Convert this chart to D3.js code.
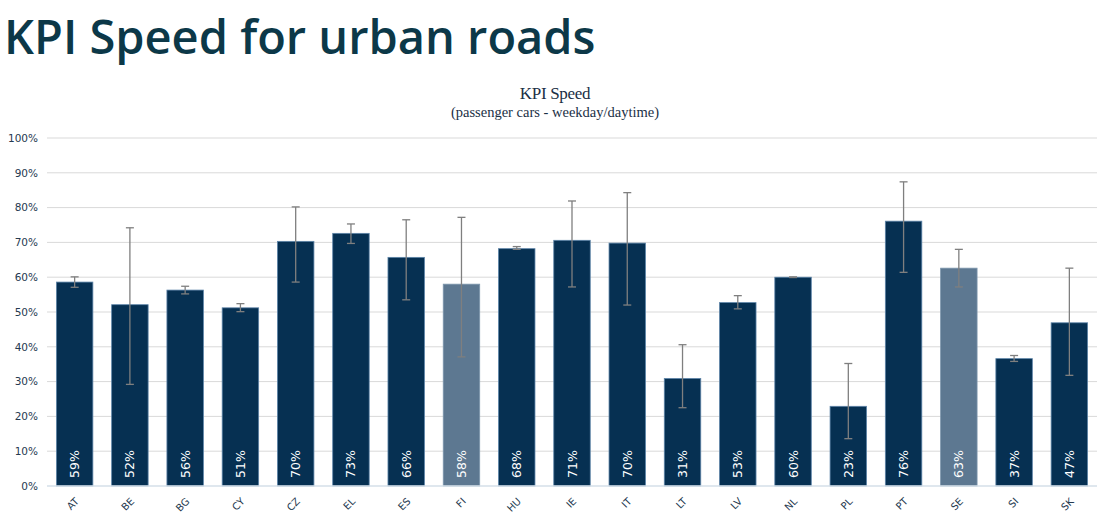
<!DOCTYPE html>
<html>
<head>
<meta charset="utf-8">
<script src="https://cdn.jsdelivr.net/npm/d3@7"></script>
<style>
  body { margin: 0; background: #fff; }
  svg { display: block; }
</style>
</head>
<body>
<div id="chart"></div>
<script>
// Chart data
const countries = ["AT","BE","BG","CY","CZ","EL","ES","FI","HU","IE","IT","LT","LV","NL","PL","PT","SE","SI","SK"];
const kpi      = [58.6,52.1,56.3,51.2,70.3,72.6,65.7,58.0,68.2,70.6,69.8,30.9,52.7,60.0,22.9,76.1,62.6,36.6,46.9];
const errHigh  = [60.1,74.2,57.4,52.4,80.2,75.3,76.5,77.2,68.8,81.9,84.3,40.6,54.7,60.1,35.2,87.4,68.0,37.5,62.6];
const errLow   = [57.1,29.2,55.2,50.1,58.6,69.7,53.5,37.1,68.0,57.2,52.0,22.5,50.9,59.9,13.6,61.4,57.2,35.8,31.8];
const labels   = ["59%","52%","56%","51%","70%","73%","66%","58%","68%","71%","70%","31%","53%","60%","23%","76%","63%","37%","47%"];
const lighter  = ["FI","SE"];
const yTicks   = [0,10,20,30,40,50,60,70,80,90,100];

const width = 1106, height = 528;
const margin = {left: 47, right: 9, top: 138, bottom: 42};

const svg = d3.select("#chart")
  .append("svg")
  .attr("width", width)
  .attr("height", height);

// Page title
svg.append("text")
  .attr("x", 4)
  .attr("y", 54)
  .attr("font-family", "'Open Sans', sans-serif")
  .attr("font-weight", 600)
  .attr("font-size", "47px")
  .attr("fill", "#0c3848")
  .text("KPI Speed for urban roads");

// Chart title + subtitle
svg.append("text")
  .attr("x", 555).attr("y", 99)
  .attr("text-anchor", "middle")
  .attr("font-family", "'Liberation Serif', serif")
  .attr("font-size", "17px")
  .attr("letter-spacing", "-0.3px")
  .attr("fill", "#1a2f45")
  .text("KPI Speed");
svg.append("text")
  .attr("x", 555).attr("y", 117)
  .attr("text-anchor", "middle")
  .attr("font-family", "'Liberation Serif', serif")
  .attr("font-size", "14.5px")
  .attr("fill", "#1a2f45")
  .text("(passenger cars - weekday/daytime)");

// Scales
const x = d3.scaleBand()
  .domain(countries)
  .range([margin.left, width - margin.right])
  .paddingInner(0.34)
  .paddingOuter(0.17);

const y = d3.scaleLinear()
  .domain([0, 100])
  .range([height - margin.bottom, margin.top]);

// Gridlines
svg.append("g")
  .selectAll("line")
  .data(yTicks.slice(1))
  .join("line")
  .attr("x1", margin.left)
  .attr("x2", width - margin.right)
  .attr("y1", d => y(d))
  .attr("y2", d => y(d))
  .attr("stroke", "#d9d9d9")
  .attr("stroke-width", 1);

// Y axis labels
const yAxis = svg.append("g")
  .attr("transform", `translate(${margin.left},0)`)
  .call(d3.axisLeft(y).tickValues(yTicks).tickFormat(d => d + "%").tickSize(0).tickPadding(9));
yAxis.select(".domain").remove();
yAxis.selectAll("text")
  .attr("font-family", "'DejaVu Sans', sans-serif")
  .attr("font-size", "10.5px")
  .attr("fill", "#263a50");

// Bars
const rows = countries.map((c, i) => ({c, v: kpi[i], hi: errHigh[i], lo: errLow[i], lab: labels[i]}));

svg.append("g")
  .selectAll("rect")
  .data(rows)
  .join("rect")
  .attr("x", d => x(d.c))
  .attr("width", x.bandwidth())
  .attr("y", d => y(d.v))
  .attr("height", d => y(0) - y(d.v))
  .attr("fill", d => lighter.includes(d.c) ? "#5d7891" : "#063052")
  .attr("stroke", d => lighter.includes(d.c) ? "#7d97ad" : "#5d84a8")
  .attr("stroke-width", 0.8);

// Baseline
svg.append("line")
  .attr("x1", margin.left)
  .attr("x2", width - margin.right)
  .attr("y1", y(0))
  .attr("y2", y(0))
  .attr("stroke", "#d5dfe8")
  .attr("stroke-width", 1.5);

// Error bars
const err = svg.append("g").attr("stroke", "#7f7f7f").attr("stroke-width", 1.3);
err.selectAll(".stem")
  .data(rows)
  .join("line")
  .attr("x1", d => x(d.c) + x.bandwidth() / 2)
  .attr("x2", d => x(d.c) + x.bandwidth() / 2)
  .attr("y1", d => y(d.hi))
  .attr("y2", d => y(d.lo));
err.selectAll(".capHi")
  .data(rows)
  .join("line")
  .attr("x1", d => x(d.c) + x.bandwidth() / 2 - 4)
  .attr("x2", d => x(d.c) + x.bandwidth() / 2 + 4)
  .attr("y1", d => y(d.hi))
  .attr("y2", d => y(d.hi));
err.selectAll(".capLo")
  .data(rows)
  .join("line")
  .attr("x1", d => x(d.c) + x.bandwidth() / 2 - 4)
  .attr("x2", d => x(d.c) + x.bandwidth() / 2 + 4)
  .attr("y1", d => y(d.lo))
  .attr("y2", d => y(d.lo));

// Value labels inside bars (rotated)
svg.append("g")
  .selectAll("text")
  .data(rows)
  .join("text")
  .attr("transform", d => `translate(${x(d.c) + x.bandwidth() / 2 + 4.5},${y(0) - 8}) rotate(-90)`)
  .attr("font-family", "'DejaVu Sans', sans-serif")
  .attr("font-size", "12.5px")
  .attr("fill", "#ffffff")
  .text(d => d.lab);

// X axis labels (rotated)
const xAxis = svg.append("g")
  .attr("transform", `translate(0,${y(0)})`)
  .call(d3.axisBottom(x).tickSize(0).tickPadding(0));
xAxis.select(".domain").remove();
xAxis.selectAll("text")
  .attr("font-family", "'DejaVu Sans', sans-serif")
  .attr("font-size", "10px")
  .attr("fill", "#263a50")
  .attr("text-anchor", "end")
  .attr("dy", 0)
  .attr("transform", "translate(5,16) rotate(-45)");
</script>
</body>
</html>
